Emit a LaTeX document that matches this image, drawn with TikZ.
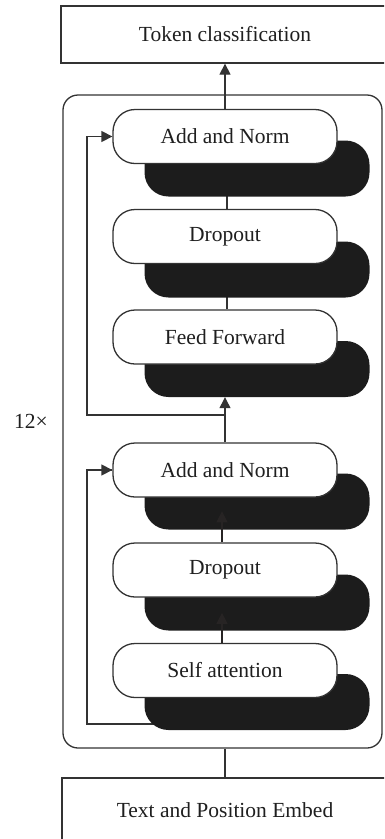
\documentclass[tikz,border=0pt]{standalone}
\usepackage{fontspec}
\setmainfont{Liberation Serif}
\usetikzlibrary{arrows.meta}
\definecolor{ln}{HTML}{333333}
\definecolor{shd}{HTML}{1C1C1C}
\definecolor{faint}{HTML}{272424}
\pgfdeclarelayer{lines}
\pgfdeclarelayer{shadows}
\pgfsetlayers{lines,shadows,main}
\begin{document}
\begin{tikzpicture}[x=1pt,y=-1pt,
  every node/.style={font=\fontsize{21.5}{25}\selectfont, text=black!88},
  pill/.style={draw=ln, line width=1.3pt, fill=white, rounded corners=22pt, minimum width=224pt, minimum height=54pt, inner sep=0pt},
  shadowpill/.style={fill=shd, rounded corners=24pt, minimum width=225pt, minimum height=56pt, inner sep=0pt},
  sqbox/.style={draw=ln, line width=1.3pt, inner sep=0pt},
  conn/.style={draw=ln, line width=1.3pt},
  arr/.style={conn, -{Triangle[length=11pt,width=11pt]}},
  farr/.style={draw=faint, line width=1.3pt, -{Triangle[length=11pt,width=11pt]}}
]
\useasboundingbox (0,0) rectangle (384,839);
\clip (0,0) rectangle (384,839);

% outer boxes
\node[sqbox, minimum width=328pt, minimum height=57pt] (tok) at (225,34.5) {Token classification};
\node[sqbox, minimum width=326pt, minimum height=64pt] (emb) at (225,810) {Text and Position Embed};
\node[draw=ln, line width=1.3pt, rounded corners=15pt, minimum width=319pt, minimum height=653pt, inner sep=0pt] (big) at (222.5,421.5) {};
\node (rep) at (31,421) {12×};

% pills
\node[pill] (an1) at (225,136.5) {Add and Norm};
\node[pill] (d1)  at (225,236.5) {Dropout};
\node[pill] (ff)  at (225,337) {Feed Forward};
\node[pill] (an2) at (225,470) {Add and Norm};
\node[pill] (d2)  at (225,570) {Dropout};
\node[pill] (sa)  at (225,670.5) {Self attention};

\begin{pgfonlayer}{shadows}
\node[shadowpill] (s1) at (257,168.5) {};
\node[shadowpill] (s2) at (257,269.5) {};
\node[shadowpill] (s3) at (257,369) {};
\node[shadowpill] (s4) at (257,501.5) {};
\node[shadowpill] (s5) at (257,602.5) {};
\node[shadowpill] (s6) at (257,702) {};
\end{pgfonlayer}

\coordinate (r1) at (225,415);
\coordinate (r1c) at (87,415);
\coordinate (r2) at (225,724);
\coordinate (r2c) at (87,724);

\begin{pgfonlayer}{lines}
\draw[conn] ([xshift=2pt]d1.north) -- ([xshift=2pt]an1.south);
\draw[conn] ([xshift=2pt]ff.north) -- ([xshift=2pt]d1.south);
\draw[conn] (r2) -- (r2c) |- (an2.west);
\end{pgfonlayer}
\draw[arr] (r2c |- an2.west) -- (an2.west);

\draw[arr] (an1.north) -- (an1.north |- tok.south);
\draw[arr] (an2.north) -- (an2.north |- s3.south);
\draw[arr] (r1) -- (r1c) |- (an1.west);
\draw[conn] (emb.north) -- (emb.north |- big.south);
\draw[farr] ([xshift=-3pt]d2.north) -- ++(0,-31);
\draw[farr] ([xshift=-3pt]sa.north) -- ++(0,-30);
\end{tikzpicture}
\end{document}
